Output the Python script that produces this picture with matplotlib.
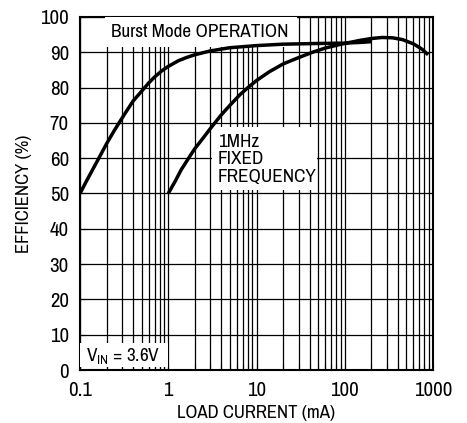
import matplotlib.pyplot as plt
from matplotlib.patches import Rectangle

plt.rcParams['font.family'] = ['Archivo Narrow', 'Roboto Condensed', 'Liberation Sans', 'DejaVu Sans']
plt.rcParams['mathtext.default'] = 'regular'

# Burst Mode operation curve (load current mA, efficiency %)
burst_i = [0.1, 0.12, 0.145, 0.17, 0.2, 0.24, 0.285, 0.34, 0.4, 0.5, 0.6, 0.7, 0.85, 1,
           1.3, 1.6, 2, 3, 5, 10, 20, 50, 100, 150, 200]
burst_eff = [50, 53.8, 57.6, 60.8, 64.1, 67.5, 70.5, 73.5, 76.2, 79, 81.3, 83, 84.8, 86,
             87.6, 88.5, 89.3, 90.4, 91.3, 91.9, 92.3, 92.5, 92.6, 92.8, 93]

# 1MHz fixed frequency curve
fixed_i = [1, 1.2, 1.4, 1.7, 2, 2.5, 3, 3.5, 4, 5, 6.5, 8, 10, 14, 20, 30, 43, 60, 91,
           150, 200, 265, 350, 450, 600, 750, 880]
fixed_eff = [50, 53.5, 56.7, 60, 62.7, 65.8, 68.4, 70.5, 72.3, 75, 78, 80, 82, 84.5, 86.7, 88.5, 90, 91.2, 92.3,
             93.4, 93.9, 94.2, 94.1, 93.6, 92.4, 90.9, 89.3]

x_ticks = [0.1, 1, 10, 100, 1000]
x_labels = ['0.1', '1', '10', '100', '1000']
y_ticks = list(range(0, 101, 10))

fs = 13.8

fig = plt.figure(figsize=(4.67, 4.23), dpi=100)
ax = fig.add_axes([80 / 467, 53 / 423, 353 / 467, 353 / 423])

ax.set_xscale('log')
ax.set_xlim(0.1, 1000)
ax.set_ylim(0, 100)
ax.set_xticks(x_ticks)
ax.set_xticklabels(x_labels)
ax.set_yticks(y_ticks)
ax.tick_params(which='both', direction='in', labelsize=15, length=4, width=0.8, color='black')
ax.tick_params(axis='x', pad=8)
ax.tick_params(axis='y', pad=8)
ax.grid(True, which='both', color='black', lw=0.9)
ax.set_axisbelow(True)
for s in ax.spines.values():
    s.set_linewidth(1.5)

ax.plot(burst_i, burst_eff, color='black', lw=2.5, solid_capstyle='butt', solid_joinstyle='round', zorder=4)
ax.plot(fixed_i, fixed_eff, color='black', lw=2.5, solid_capstyle='butt', solid_joinstyle='round', zorder=4)

# white label boxes hiding the grid
for x0, y0, w, h in [(0.071, 0.915, 0.544, 0.085), (0.374, 0.51, 0.297, 0.178), (0.0, 0.008, 0.249, 0.068)]:
    ax.add_patch(Rectangle((x0, y0), w, h, transform=ax.transAxes, fc='white', ec='none', zorder=3))

ax.text(0.089, 0.957, 'Burst Mode OPERATION', transform=ax.transAxes, fontsize=fs, va='center', zorder=5)
ax.text(0.391, 0.597, '1MHz\nFIXED\nFREQUENCY', transform=ax.transAxes, fontsize=fs, va='center',
        linespacing=1.12, zorder=5)
ax.text(0.017, 0.04, r'V$_{IN}$ = 3.6V', transform=ax.transAxes, fontsize=fs, va='center', zorder=5)

ax.set_xlabel('LOAD CURRENT (mA)', fontsize=13.5, va='baseline')
ax.set_ylabel('EFFICIENCY (%)', fontsize=13.5)
ax.xaxis.set_label_coords(0.5, -0.136)
ax.yaxis.set_label_coords(-0.135, 0.5)

fig.savefig('out.png', dpi=100)
